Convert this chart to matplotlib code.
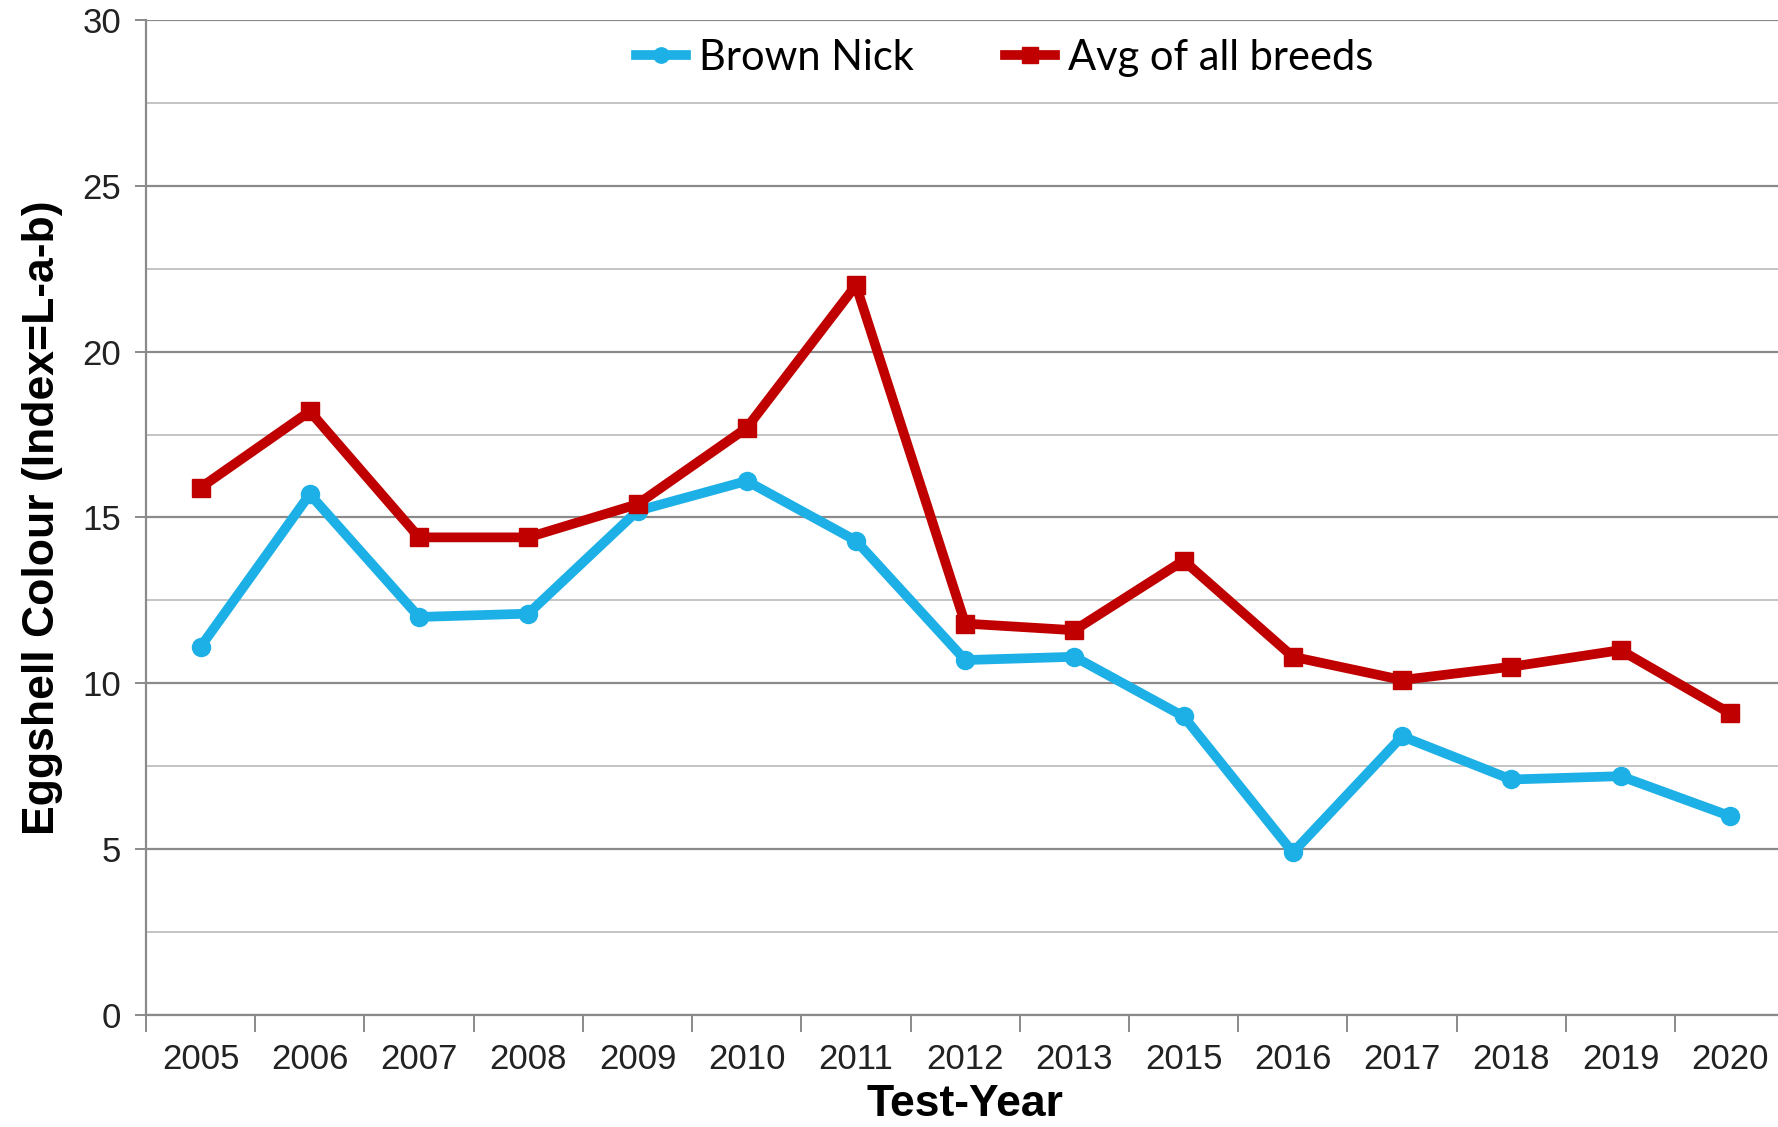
import numpy as np
import matplotlib.pyplot as plt
from matplotlib.ticker import MultipleLocator, FixedLocator

years = ['2005', '2006', '2007', '2008', '2009', '2010', '2011', '2012',
         '2013', '2015', '2016', '2017', '2018', '2019', '2020']
brown_nick = [11.1, 15.7, 12.0, 12.1, 15.2, 16.1, 14.3, 10.7,
              10.8, 9.0, 4.9, 8.4, 7.1, 7.2, 6.0]
avg_all = [15.9, 18.2, 14.4, 14.4, 15.4, 17.7, 22.0, 11.8,
           11.6, 13.7, 10.8, 10.1, 10.5, 11.0, 9.1]

fig = plt.figure(figsize=(17.78, 11.27), dpi=100)
ax = fig.add_axes([0.0821, 0.0994, 0.9215, 0.8829])

x = np.arange(len(years))
ax.plot(x, brown_nick, '-o', color='#1DB0E6', lw=7, markersize=13, label='Brown Nick', zorder=3)
ax.plot(x, avg_all, '-s', color='#C00000', lw=7, markersize=13, label='Avg of all breeds', zorder=4)

ax.set_xlim(-0.5, len(years) - 0.5)
ax.set_ylim(0, 30)
ax.yaxis.set_major_locator(MultipleLocator(5))
ax.yaxis.set_minor_locator(MultipleLocator(2.5))
ax.grid(which='major', axis='y', color='#8a8a8a', lw=1.6)
ax.grid(which='minor', axis='y', color='#c4c4c4', lw=1.4)
ax.set_axisbelow(True)

ax.set_xticks(x)
ax.set_xticklabels(years)
ax.xaxis.set_minor_locator(FixedLocator(np.arange(-0.5, len(years), 1)))
ax.tick_params(axis='x', which='major', length=0, pad=20, labelsize=25, labelcolor='#222222')
ax.tick_params(axis='x', which='minor', length=12, width=1.4, color='#8a8a8a')
ax.tick_params(axis='y', which='major', length=8, width=1.4, color='#8a8a8a', labelsize=25, labelcolor='#222222', pad=10)
ax.tick_params(axis='y', which='minor', length=0)
for lbl in ax.get_xticklabels() + ax.get_yticklabels():
    lbl.set_family('Liberation Sans')

for s in ['top', 'right']:
    ax.spines[s].set_visible(False)
for s in ['left', 'bottom']:
    ax.spines[s].set_color('#8a8a8a')
    ax.spines[s].set_linewidth(1.6)

ax.set_xlabel('Test-Year', fontsize=32, fontweight='bold', family='Liberation Sans', labelpad=6)
ax.set_ylabel('Eggshell Colour (Index=L-a-b)', fontsize=32, fontweight='bold', family='Liberation Sans', labelpad=14)

ax.legend(loc='center', bbox_to_anchor=(0.524, 0.962), ncol=2, frameon=False,
          prop={'family': 'Lato', 'size': 30}, handlelength=1.2, columnspacing=2.2,
          handletextpad=0.3, markerscale=0.85)

fig.savefig('out.png', dpi=100)
